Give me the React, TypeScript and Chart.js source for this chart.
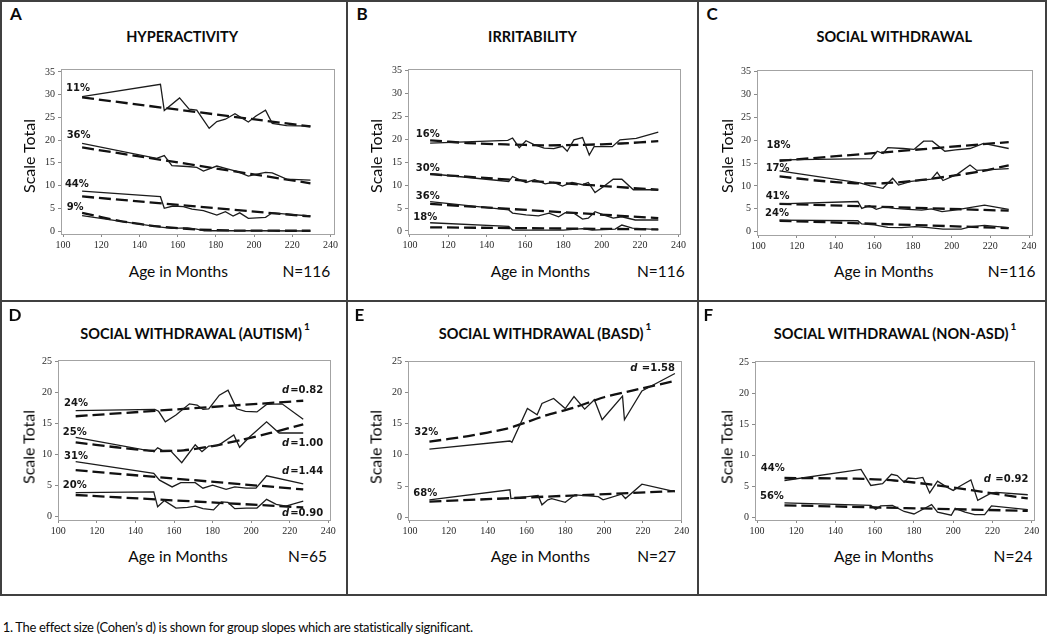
import React, { useEffect, useRef } from "react";
import { Chart, registerables } from "chart.js";

Chart.register(...registerables);

type Pt = [number, number];

// ---------- text / categories ----------
const panelLetters = ["A", "B", "C", "D", "E", "F"];
const panelTitles = [
  "HYPERACTIVITY",
  "IRRITABILITY",
  "SOCIAL WITHDRAWAL",
  "SOCIAL WITHDRAWAL (AUTISM)",
  "SOCIAL WITHDRAWAL (BASD)",
  "SOCIAL WITHDRAWAL (NON-ASD)",
];
const titleNotes = ["", "", "", "1", "1", "1"];
const sampleSizes = ["N=116", "N=116", "N=116", "N=65", "N=27", "N=24"];
const xAxisTitle = "Age in Months";
const yAxisTitle = "Scale Total";
const xTickValues = [100, 120, 140, 160, 180, 200, 220, 240];
const yTicksFull = [0, 5, 10, 15, 20, 25, 30, 35];
const yTicksSub = [0, 5, 10, 15, 20, 25];
const footnote =
  "1. The effect size (Cohen\u2019s d) is shown for group slopes which are statistically significant.";

// ---------- group shares and effect sizes ----------
const groupsA = ["11%", "36%", "44%", "9%"];
const groupsB = ["16%", "30%", "36%", "18%"];
const groupsC = ["18%", "17%", "41%", "24%"];
const groupsD = ["24%", "25%", "31%", "20%"];
const groupsE = ["32%", "68%"];
const groupsF = ["44%", "56%"];
const effectsD = ["=0.82", "=1.00", "=1.44", "=0.90"];
const effectsE = [" =1.58"];
const effectsF = [" =0.92"];

// ---------- A: Hyperactivity (age, score) ----------
const hyp11Obs: Pt[] = [[110, 29.6], [151, 32.3], [153, 26.5], [161, 29.3], [166, 26.8], [170, 26.6], [176.5, 22.6], [180.5, 24.1], [185, 24.6], [190, 25.8], [197, 24.0], [201, 25.3], [206, 26.6], [209.5, 23.7], [217, 23.2], [229.5, 23.1]];
const hyp11Fit: Pt[] = [[110, 29.4], [229.5, 23.0]];
const hyp36Obs: Pt[] = [[110, 19.3], [149, 16.0], [153, 16.6], [157, 14.4], [165, 14.2], [170, 14.0], [173.5, 13.2], [180.5, 14.3], [185, 13.8], [191, 13.1], [197, 12.1], [201.5, 12.5], [206, 12.9], [209.5, 12.8], [217, 11.4], [229.5, 11.2]];
const hyp36Fit: Pt[] = [[110, 18.4], [229.5, 10.5]];
const hyp44Obs: Pt[] = [[110, 8.8], [151, 7.55], [153, 5.0], [157.5, 5.5], [163, 5.35], [167.5, 4.8], [173.5, 4.5], [180.5, 3.5], [185, 4.25], [189, 3.3], [192.5, 4.0], [197, 2.8], [206, 3.0], [209.5, 4.0], [217, 3.7], [229.5, 3.3]];
const hyp44Fit: Pt[] = [[110, 7.6], [229.5, 3.2]];
const hyp9Obs: Pt[] = [[110, 3.4], [150, 0.9], [157, 0.6], [165, 0.7], [170, 0.4], [174, 0.05], [180, 0.1], [200, 0.05], [229.5, 0.0]];
const hyp9Fit: Pt[] = [[110, 4.0], [130, 2.2], [150, 1.0], [170, 0.35], [190, 0.1], [229.5, 0.05]];

// ---------- B: Irritability ----------
const irr16Obs: Pt[] = [[110.5, 19.2], [151, 19.8], [153.5, 20.3], [157, 18.2], [160.5, 19.7], [165, 18.8], [170, 18.1], [175, 18.0], [179.5, 18.5], [182, 17.4], [185.5, 19.9], [190, 20.4], [193.5, 16.6], [196, 18.4], [205.5, 18.4], [209.5, 19.9], [218, 20.2], [229.5, 21.6]];
const irr16Fit: Pt[] = [[110.5, 19.8], [130, 19.2], [150, 18.9], [170, 18.7], [190, 18.8], [210, 19.1], [229.5, 19.6]];
const irr30Obs: Pt[] = [[110.5, 12.5], [151.5, 10.8], [153.5, 11.9], [157, 11.2], [160.5, 10.6], [165, 11.2], [170.5, 10.3], [175, 10.6], [179.5, 9.8], [184.5, 10.6], [190, 10.1], [193, 10.6], [196.5, 8.4], [201, 9.7], [206, 11.3], [210.5, 11.3], [216.5, 9.0], [229.5, 9.0]];
const irr30Fit: Pt[] = [[110.5, 12.4], [229.5, 9.0]];
const irr36Obs: Pt[] = [[110.5, 6.4], [151.5, 4.6], [153.5, 3.9], [160.5, 3.5], [167, 3.3], [172.5, 3.9], [177.5, 3.1], [181, 4.0], [185.5, 3.9], [190, 2.6], [193, 2.8], [196.5, 4.2], [201, 3.5], [206, 2.8], [210.5, 3.1], [217.5, 2.4], [229.5, 2.4]];
const irr36Fit: Pt[] = [[110.5, 5.9], [229.5, 2.8]];
const irr18Obs: Pt[] = [[110.5, 1.8], [151.5, 1.0], [153.5, 0.2], [165, 0.2], [180, 0.2], [190, 0.5], [195, 0.2], [207, 0.4], [210.5, 1.3], [216, 0.6], [229.5, 0.3]];
const irr18Fit: Pt[] = [[110.5, 0.8], [229.5, 0.35]];

// ---------- C: Social withdrawal ----------
const sw18Obs: Pt[] = [[111, 15.7], [158.5, 16.0], [161.5, 17.6], [164.5, 17.1], [167, 18.4], [175, 18.2], [180.5, 18.0], [185.5, 19.8], [190, 19.8], [196.5, 17.6], [202, 17.9], [209.5, 18.2], [216.5, 19.3], [229.5, 18.2]];
const sw18Fit: Pt[] = [[111, 15.5], [229.5, 19.6]];
const sw17Obs: Pt[] = [[111, 13.3], [152.5, 10.7], [158, 10.0], [164.5, 9.5], [169.5, 11.7], [172.5, 10.2], [179, 11.0], [189.5, 11.5], [192.5, 13.0], [195.5, 11.2], [203, 12.6], [209.5, 14.6], [213, 13.4], [229.5, 13.8]];
const sw17Fit: Pt[] = [[111, 12.1], [130, 11.2], [150, 10.6], [165, 10.6], [180, 11.1], [200, 12.2], [215, 13.2], [229.5, 14.5]];
const sw41Obs: Pt[] = [[111, 6.1], [151.5, 6.6], [153.5, 5.1], [157.5, 5.7], [161, 4.9], [165.5, 5.5], [170.5, 5.1], [177.5, 4.9], [184.5, 4.7], [189.5, 5.0], [195, 4.4], [201.5, 4.7], [208.5, 5.2], [217, 5.8], [229.5, 4.9]];
const sw41Fit: Pt[] = [[111, 6.1], [229.5, 4.6]];
const sw24Obs: Pt[] = [[111, 2.55], [151.5, 2.4], [153.5, 1.7], [160, 1.5], [167, 0.95], [174, 0.9], [181, 1.1], [188, 0.9], [195.5, 0.55], [205, 0.55], [210, 1.1], [217, 1.4], [229.5, 0.9]];
const sw24Fit: Pt[] = [[111, 2.4], [229.5, 0.8]];

// ---------- D: Social withdrawal (autism) ----------
const aut24Obs: Pt[] = [[109, 17.1], [150, 17.3], [152, 17.0], [155.5, 15.3], [161, 16.4], [168, 18.2], [172, 18.0], [175, 17.3], [178, 17.4], [183.5, 19.6], [188, 20.4], [192.5, 17.4], [197, 17.0], [203, 16.9], [208, 18.1], [216, 18.2], [227, 15.7]];
const aut24Fit: Pt[] = [[109, 16.2], [227, 18.7]];
const aut25Obs: Pt[] = [[109, 12.8], [149.5, 10.5], [151.5, 11.1], [154, 10.7], [158, 10.7], [164, 8.7], [171, 11.6], [174.5, 10.5], [178, 11.4], [183, 11.5], [191, 13.2], [194, 11.2], [199, 12.8], [208, 15.3], [214.5, 13.5], [227, 13.5]];
const aut25Fit: Pt[] = [[109, 12.0], [130, 11.2], [150, 10.6], [165, 10.7], [180, 11.4], [195, 12.4], [210, 13.5], [227, 14.9]];
const aut31Obs: Pt[] = [[109, 8.9], [149.5, 7.0], [152.5, 5.9], [159, 4.8], [163.5, 5.5], [171, 5.5], [175, 4.6], [180, 5.1], [187, 4.4], [191.5, 4.8], [197.5, 4.6], [202.5, 4.6], [208, 6.6], [227, 5.3]];
const aut31Fit: Pt[] = [[109, 7.5], [227, 4.4]];
const aut20Obs: Pt[] = [[109, 3.9], [149.5, 4.0], [151.5, 1.6], [155, 2.6], [161, 1.4], [167, 1.5], [171, 1.7], [175, 1.3], [180.5, 1.1], [184.5, 2.4], [188, 2.3], [191.5, 1.3], [197.5, 1.4], [203, 1.4], [208, 2.8], [213, 2.0], [218, 1.7], [227, 2.5]];
const aut20Fit: Pt[] = [[109, 3.5], [227, 1.5]];

// ---------- E: Social withdrawal (BASD) ----------
const basd32Obs: Pt[] = [[110, 10.9], [151.5, 12.2], [152.5, 12.0], [160.5, 17.4], [165.5, 16.4], [168, 18.2], [174, 19.0], [180, 17.4], [184.5, 19.3], [190, 17.3], [195, 18.8], [199, 15.6], [209.5, 19.4], [210.5, 15.6], [219.5, 20.2], [236.5, 23.0]];
const basd32Fit: Pt[] = [[110, 12.1], [130, 13.0], [150, 14.2], [160, 15.2], [170, 16.3], [185, 17.6], [200, 19.2], [215, 20.3], [236.5, 21.8]];
const basd68Obs: Pt[] = [[110, 2.8], [151.5, 4.4], [152, 3.0], [166, 3.5], [168, 2.0], [171, 2.8], [173, 3.0], [180, 2.4], [185, 3.6], [197, 3.3], [199.5, 2.8], [209, 3.7], [211, 3.0], [219.5, 5.3], [236.5, 4.1]];
const basd68Fit: Pt[] = [[110, 2.5], [236.5, 4.2]];

// ---------- F: Social withdrawal (non-ASD) ----------
const non44Obs: Pt[] = [[114, 6.0], [153, 7.8], [158, 5.2], [164, 5.5], [168.5, 7.0], [171.5, 6.8], [175, 5.7], [177, 6.4], [181, 6.3], [184.5, 6.5], [188, 4.0], [192, 5.9], [197, 4.9], [200, 4.4], [204, 5.2], [209, 6.1], [212.5, 2.8], [219.5, 4.0], [222, 4.1], [238, 3.7]];
const non44Fit: Pt[] = [[114, 6.4], [150, 6.3], [170, 6.0], [190, 5.3], [210, 4.4], [238, 3.1]];
const non56Obs: Pt[] = [[114, 2.4], [158, 2.0], [160.5, 1.35], [163, 1.9], [169, 2.0], [175, 1.0], [180, 0.6], [186, 1.6], [189, 2.1], [192, 0.9], [199, 0.4], [201, 1.5], [206, 0.9], [211, 0.5], [216, 0.5], [219.5, 1.9], [238, 1.3]];
const non56Fit: Pt[] = [[114, 2.0], [238, 1.1]];

// ---------- panel assembly (layout in pixels, anchors in data units) ----------
type Series = { obs: Pt[]; fit: Pt[] };
type Panel = {
  series: Series[];
  groups: string[];
  groupAt: Pt[];
  effects: string[];
  effectAt: Pt[];
  box: [number, number, number, number];
  xr: [number, number];
  yr: [number, number];
  yTicks: number[];
  row: number;
  col: number;
  titleCx: number;
  ageCx: number;
  nCx: number;
};

const colLeft = [0, 347, 698];
const letterX = [[10, 356.5, 706.5], [8.5, 354.5, 703.5]];
const rowLetterBase = [20.5, 321.5];
const rowTitleBase = [42.7, 339.8];
const rowAgeBase = [277.3, 562.3];
const rowYTitleCy = [155.5, 447.3];

const panels: Panel[] = [
  {
    series: [{ obs: hyp11Obs, fit: hyp11Fit }, { obs: hyp36Obs, fit: hyp36Fit }, { obs: hyp44Obs, fit: hyp44Fit }, { obs: hyp9Obs, fit: hyp9Fit }],
    groups: groupsA, groupAt: [[101.6, 31.3], [101.9, 21.1], [101.0, 10.2], [101.9, 5.3]],
    effects: [], effectAt: [],
    box: [61, 69, 334, 234], xr: [98.95, 241.83], yr: [-0.66, 35.66], yTicks: yTicksFull,
    row: 0, col: 0, titleCx: 182.2, ageCx: 178.3, nCx: 306.3,
  },
  {
    series: [{ obs: irr16Obs, fit: irr16Fit }, { obs: irr30Obs, fit: irr30Fit }, { obs: irr36Obs, fit: irr36Fit }, { obs: irr18Obs, fit: irr18Fit }],
    groups: groupsB, groupAt: [[103.0, 21.0], [103.0, 13.7], [103.0, 7.5], [101.7, 3.0]],
    effects: [], effectAt: [],
    box: [408, 69, 680, 234], xr: [98.96, 240.83], yr: [-0.66, 35.37], yTicks: yTicksFull,
    row: 0, col: 1, titleCx: 532.5, ageCx: 540.3, nCx: 660.8,
  },
  {
    series: [{ obs: sw18Obs, fit: sw18Fit }, { obs: sw17Obs, fit: sw17Fit }, { obs: sw41Obs, fit: sw41Fit }, { obs: sw24Obs, fit: sw24Fit }],
    groups: groupsC, groupAt: [[104.3, 18.8], [103.8, 13.9], [103.8, 7.74], [103.5, 4.1]],
    effects: [], effectAt: [],
    box: [757, 70, 1032, 235], xr: [99.33, 241.55], yr: [-0.72, 35.37], yTicks: yTicksFull,
    row: 0, col: 2, titleCx: 894.2, ageCx: 883.7, nCx: 1011.7,
  },
  {
    series: [{ obs: aut24Obs, fit: aut24Fit }, { obs: aut25Obs, fit: aut25Fit }, { obs: aut31Obs, fit: aut31Fit }, { obs: aut20Obs, fit: aut20Fit }],
    groups: groupsD, groupAt: [[102.95, 18.3], [102.3, 13.6], [102.95, 9.8], [102.3, 5.0]],
    effects: effectsD, effectAt: [[237.4, 20.4], [237.4, 11.8], [237.4, 7.3], [237.4, 0.55]],
    box: [58, 360, 330, 520], xr: [99.84, 240.88], yr: [-0.53, 25.27], yTicks: yTicksSub,
    row: 1, col: 0, titleCx: 195, ageCx: 178, nCx: 307.5,
  },
  {
    series: [{ obs: basd32Obs, fit: basd32Fit }, { obs: basd68Obs, fit: basd68Fit }],
    groups: groupsE, groupAt: [[102.2, 13.5], [101.7, 3.9]],
    effects: effectsE, effectAt: [[236.5, 23.8]],
    box: [408, 361, 681, 520], xr: [98.97, 239.64], yr: [-0.43, 25.0], yTicks: yTicksSub,
    row: 1, col: 1, titleCx: 545, ageCx: 540.3, nCx: 656.7,
  },
  {
    series: [{ obs: non44Obs, fit: non44Fit }, { obs: non56Obs, fit: non56Fit }],
    groups: groupsF, groupAt: [[101.9, 8.0], [101.5, 3.5]],
    effects: effectsF, effectAt: [[238.3, 6.2]],
    box: [755, 361, 1034, 520], xr: [98.98, 241.17], yr: [-0.37, 25.27], yTicks: yTicksSub,
    row: 1, col: 2, titleCx: 895, ageCx: 883.7, nCx: 1013,
  },
];

const Y_AXIS_W = 30;
const X_AXIS_H = 22;
const PAD_T = 12;
const PAD_R = 14;

const frameLabels = {
  id: "frameLabels",
  afterDatasetsDraw(chart: any, _args: any, opts: any) {
    const { ctx, chartArea: a } = chart;
    const xs = chart.scales.x;
    const ys = chart.scales.y;
    ctx.save();
    ctx.strokeStyle = "#a3a3a3";
    ctx.lineWidth = 1;
    ctx.strokeRect(Math.round(a.left) + 0.5, Math.round(a.top) + 0.5, Math.round(a.right - a.left), Math.round(a.bottom - a.top));
    ctx.fillStyle = "#161616";
    ctx.textBaseline = "middle";
    const groups: string[] = opts.groups || [];
    groups.forEach((t, i) => {
      const [gx, gy] = opts.groupAt[i];
      ctx.font = 'bold 10px "DejaVu Sans"';
      ctx.textAlign = "left";
      ctx.fillText(t, xs.getPixelForValue(gx), ys.getPixelForValue(gy));
    });
    const effects: string[] = opts.effects || [];
    effects.forEach((t, i) => {
      const [ex, ey] = opts.effectAt[i];
      const px = xs.getPixelForValue(ex);
      const py = ys.getPixelForValue(ey);
      ctx.font = 'bold 10px "DejaVu Sans"';
      ctx.textAlign = "right";
      const w = ctx.measureText(t).width;
      ctx.fillText(t, px, py);
      ctx.font = 'italic bold 10px "DejaVu Sans"';
      ctx.fillText("d", px - w - 1, py);
    });
    ctx.restore();
  },
};

function PanelChart({ p }: { p: Panel }) {
  const ref = useRef<HTMLCanvasElement | null>(null);
  const [L, T, R, B] = p.box;
  const w = R - L + Y_AXIS_W + PAD_R;
  const h = B - T + PAD_T + X_AXIS_H;
  useEffect(() => {
    if (!ref.current) return;
    const datasets: any[] = [];
    p.series.forEach((s) => {
      datasets.push({
        data: s.obs.map(([x, y]) => ({ x, y })),
        borderColor: "#1c1c1c",
        borderWidth: 1.3,
        pointRadius: 0,
        tension: 0,
        fill: false,
      });
      datasets.push({
        data: s.fit.map(([x, y]) => ({ x, y })),
        borderColor: "#111",
        borderWidth: 2.3,
        borderDash: [12, 5],
        pointRadius: 0,
        tension: 0.25,
        fill: false,
      });
    });
    const tickFont = { family: '"Liberation Serif", "DejaVu Serif", serif', size: 10 };
    const chart = new Chart(ref.current, {
      type: "line",
      data: { datasets },
      options: {
        responsive: false,
        animation: false,
        events: [],
        layout: { padding: { left: 0, top: PAD_T, right: PAD_R, bottom: 0 } },
        plugins: {
          legend: { display: false },
          tooltip: { enabled: false },
          title: { display: false },
          frameLabels: { groups: p.groups, groupAt: p.groupAt, effects: p.effects, effectAt: p.effectAt },
        } as any,
        scales: {
          x: {
            type: "linear",
            min: p.xr[0],
            max: p.xr[1],
            afterBuildTicks: (ax: any) => {
              ax.ticks = xTickValues.map((v) => ({ value: v }));
            },
            afterFit: (ax: any) => {
              ax.height = X_AXIS_H;
            },
            grid: { drawOnChartArea: false, drawTicks: true, tickLength: 3, color: "#8a8a8a" },
            border: { display: true, color: "#a3a3a3" },
            ticks: { font: tickFont, color: "#2a2a2a", padding: 2, maxRotation: 0, autoSkip: false },
          },
          y: {
            type: "linear",
            min: p.yr[0],
            max: p.yr[1],
            afterBuildTicks: (ax: any) => {
              ax.ticks = p.yTicks.map((v) => ({ value: v }));
            },
            afterFit: (ax: any) => {
              ax.width = Y_AXIS_W;
            },
            grid: { drawOnChartArea: false, drawTicks: true, tickLength: 3, color: "#8a8a8a" },
            border: { display: true, color: "#a3a3a3" },
            ticks: { font: tickFont, color: "#2a2a2a", padding: 3, autoSkip: false },
          },
        },
      } as any,
      plugins: [frameLabels as any],
    });
    return () => chart.destroy();
  }, []);
  return (
    <canvas
      ref={ref}
      width={w}
      height={h}
      style={{ position: "absolute", left: L - Y_AXIS_W, top: T - PAD_T, width: w, height: h }}
    />
  );
}

const FONT = 'Lato, "Open Sans", "DejaVu Sans", sans-serif';
const ASC = 0.987;

function Txt({ x, base, size, bold, center, spacing, children }: any) {
  return (
    <div
      style={{
        position: "absolute",
        left: x,
        top: base - ASC * size,
        fontFamily: FONT,
        fontSize: size,
        fontWeight: bold ? 700 : 400,
        lineHeight: `${1.2 * size}px`,
        letterSpacing: spacing ? `${spacing}px` : undefined,
        whiteSpace: "nowrap",
        color: "#0a0a0a",
        transform: center ? "translateX(-50%)" : undefined,
      }}
    >
      {children}
    </div>
  );
}

const lineColor = "#404040";
function Rule({ l, t, w, h }: any) {
  return <div style={{ position: "absolute", left: l, top: t, width: w, height: h, background: lineColor, zIndex: 5 }} />;
}

export default function App() {
  return (
    <div style={{ position: "absolute", left: 0, top: 0, width: 1050, height: 636, background: "#fff", overflow: "hidden" }}>
      {panels.map((p, i) => (
        <React.Fragment key={i}>
          <PanelChart p={p} />
          <Txt x={letterX[p.row][p.col]} base={rowLetterBase[p.row]} size={17} bold>
            {panelLetters[i]}
          </Txt>
          <Txt x={p.titleCx} base={rowTitleBase[p.row]} size={14.5} bold center>
            {panelTitles[i]}
            {titleNotes[i] ? (
              <span style={{ fontSize: 10, position: "relative", top: -9, marginLeft: 2 }}>{titleNotes[i]}</span>
            ) : null}
          </Txt>
          <Txt x={p.ageCx} base={rowAgeBase[p.row]} size={15.5} center>
            {xAxisTitle}
          </Txt>
          <Txt x={p.nCx} base={rowAgeBase[p.row]} size={15.5} center>
            {sampleSizes[i]}
          </Txt>
          <div
            style={{
              position: "absolute",
              left: colLeft[p.col] + 27.8,
              top: rowYTitleCy[p.row],
              transform: "translate(-50%, -50%) rotate(-90deg)",
              fontFamily: FONT,
              fontSize: 16,
              lineHeight: "19px",
              whiteSpace: "nowrap",
              color: "#0a0a0a",
            }}
          >
            {yAxisTitle}
          </div>
        </React.Fragment>
      ))}
      <Rule l={0} t={0} w={1047} h={2} />
      <Rule l={0} t={300} w={1047} h={2} />
      <Rule l={0} t={594} w={1047} h={2} />
      <Rule l={0} t={0} w={2} h={596} />
      <Rule l={346} t={0} w={2} h={596} />
      <Rule l={697} t={0} w={2} h={596} />
      <Rule l={1045} t={0} w={2} h={596} />
      <Txt x={2.7} base={632.5} size={13} spacing={-0.32}>
        {footnote}
      </Txt>
    </div>
  );
}
